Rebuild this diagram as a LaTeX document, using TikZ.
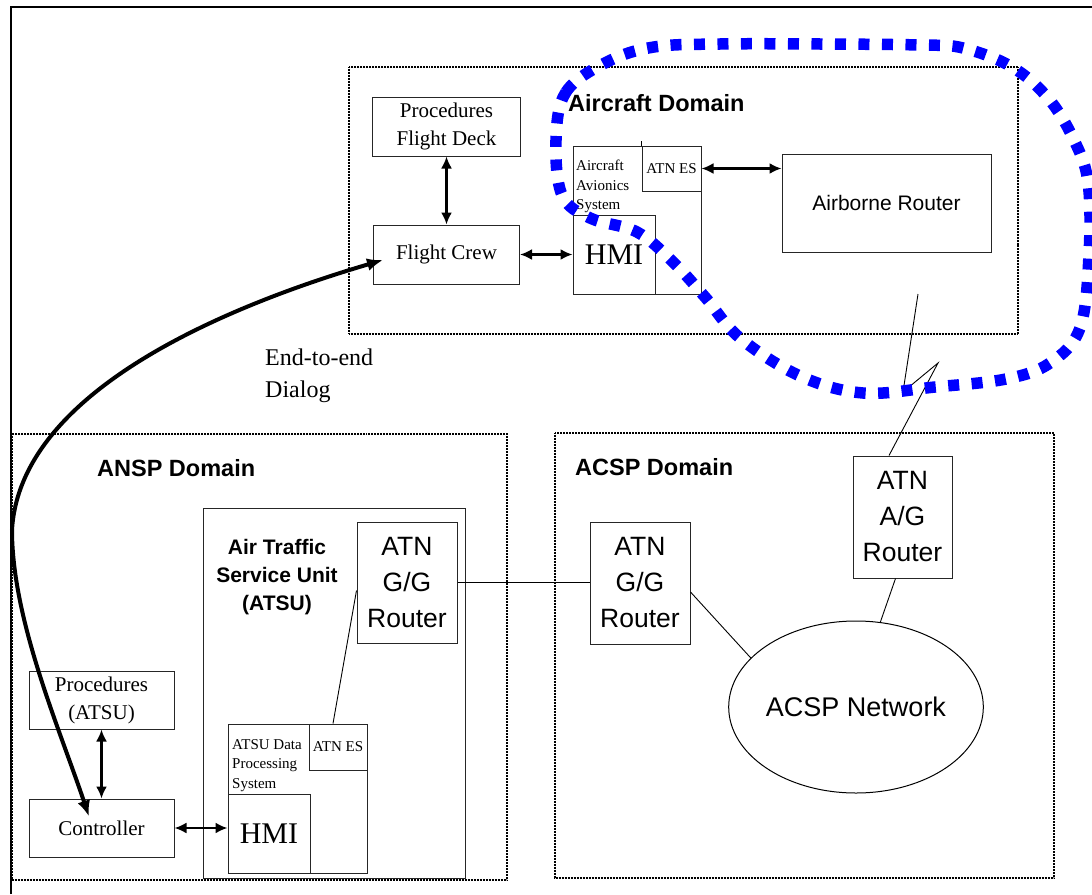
\documentclass[tikz,border=0pt]{standalone}
\usepackage{fontspec}
\setmainfont{Liberation Serif}
\setsansfont{Liberation Sans}
\usetikzlibrary{arrows.meta,shapes.geometric}

\begin{document}
\begin{tikzpicture}[x=1pt,y=-1pt,
    box/.style={draw=black!85, line width=1pt, inner sep=0pt, align=center, font=\fontsize{21}{28}\selectfont},
    router/.style={box, font=\sffamily\fontsize{26.5}{36}\selectfont},
    hmi/.style={box, font=\fontsize{30}{34}\selectfont},
    smalltext/.style={inner sep=0pt, align=left, anchor=north west, font=\fontsize{15}{19.5}\selectfont},
    domainbox/.style={line width=2pt, dash pattern=on 1pt off 0.5pt},
    domlabel/.style={inner sep=0pt, anchor=west, font=\sffamily\bfseries\fontsize{23.5}{28}\selectfont},
    link/.style={line width=0.9pt},
    biarrow/.style={{Latex[length=12pt,width=11pt]}-{Latex[length=12pt,width=11pt]}, line width=2.2pt},
    dialog/.style={{Latex[length=16pt,width=13pt]}-{Latex[length=16pt,width=13pt]}, line width=4pt}]
            \useasboundingbox (0,0) rectangle (1092,894);
            \draw [line width=2pt] (11,894) -- (11,7) -- (1092,7);

            % domains
            \draw [domainbox] (349,67) rectangle (1018,334);
            \draw [domainbox] (12,434) rectangle (507,880);
            \draw [domainbox] (555,433) rectangle (1054,878);
            \node [domlabel] (acdom) at (568,103) {Aircraft Domain};
            \node [domlabel] (anspdom) at (97,468) {ANSP Domain};
            \node [domlabel] (acspdom) at (575,467) {ACSP Domain};

            % aircraft
            \node [box, minimum width=148pt, minimum height=59pt] (pfd) at (446.5,126.5) {Procedures\\Flight Deck};
            \node [box, minimum width=146pt, minimum height=59pt] (crew) at (446.5,254.5) {Flight Crew};
            \node [box, minimum width=128pt, minimum height=148pt] (avs) at (637,220) {};
            \node [box, minimum width=59pt, minimum height=45pt, font=\fontsize{15}{19.5}\selectfont] (aes) at (671.5,168.5) {ATN ES};
            \draw [link] (aes.north west) -- ++(0,-5);
            \node [hmi, minimum width=82pt, minimum height=79pt] (ahmi) at (614,254.5) {HMI};
            \node [smalltext] (avstext) at (576,160) {Aircraft\\Avionics\\System};
            \node [box, minimum width=209pt, minimum height=98pt, font=\sffamily\fontsize{21}{26}\selectfont] (ar) at (886.5,203) {Airborne Router};
            \draw [biarrow] (pfd) -- (crew);
            \draw [biarrow] (crew) -- (ahmi);
            \draw [biarrow] (aes.east) -- (aes.east -| ar.west);

            % ansp
            \node [box, minimum width=262pt, minimum height=370pt] (atsu) at (334,693) {};
            \node [inner sep=0pt, align=center, font=\sffamily\bfseries\fontsize{21}{28}\selectfont] (atsutext) at (277,577) {Air Traffic\\Service Unit\\(ATSU)};
            \node [router, minimum width=100pt, minimum height=121pt] (gga) at (407,582.5) {ATN\\G/G\\Router};
            \node [box, minimum width=145pt, minimum height=58pt] (patsu) at (101.5,700) {Procedures\\(ATSU)};
            \node [box, minimum width=145pt, minimum height=58pt] (ctrl) at (101.5,828) {Controller};
            \node [box, minimum width=139pt, minimum height=149pt] (dps) at (297.5,798.5) {};
            \node [box, minimum width=58pt, minimum height=46pt, font=\fontsize{15}{19.5}\selectfont] (des) at (338,747) {ATN ES};
            \node [hmi, minimum width=82pt, minimum height=79pt] (dhmi) at (269,833.5) {HMI};
            \node [smalltext] (dpstext) at (232,739) {ATSU Data\\Processing\\System};
            \draw [biarrow] (patsu) -- (ctrl);
            \draw [biarrow] (ctrl.east) -- (ctrl.east -| dhmi.west);
            \draw [link] ([xshift=-5pt]des.north) -- ([yshift=-8pt]gga.west);

            % acsp
            \node [router, minimum width=100pt, minimum height=122pt] (ggc) at (640,583) {ATN\\G/G\\Router};
            \node [router, minimum width=99pt, minimum height=122pt] (ag) at (902.5,517) {ATN\\A/G\\Router};
            \node [draw, ellipse, line width=1pt, minimum width=248pt, minimum height=172pt, inner sep=0pt, font=\sffamily\fontsize{27}{32}\selectfont] (net) at (856,707) {ACSP Network};
            \draw [link] (gga.east) -- (gga.east -| ggc.west);
            \draw [link] ([yshift=-9pt]ggc.east) -- (net.155);
            \draw [link] ([xshift=-7pt]ag.south) -- (net.74);
            \coordinate (bolt) at (918,294);
            \draw [link] (bolt) -- (903,392) -- (938,363) -- ([xshift=-13.5pt]ag.north);

            % dialog
            \node [inner sep=0pt, align=left, anchor=north west, font=\fontsize{24}{32}\selectfont] (e2e) at (265,349) {End-to-end\\Dialog};
            \draw [dialog] ([xshift=10pt,yshift=-5.5pt]crew.west) .. controls (230,305) and (20,390) .. (12,530)
                .. controls (12,620) and (60,730) .. ([xshift=-12.5pt,yshift=-18pt]ctrl.north);

            % blue loop
            \draw [blue, line width=11.5pt, dash pattern=on 11pt off 12.5pt] plot [smooth cycle, tension=0.6] coordinates {
                (556,140) (566,92) (607,62) (654,47) (720,44) (820,44) (920,45) (963,48) (1012,67) (1048,98)
                (1073,138) (1088,182) (1089,255) (1080,328) (1050,363) (1006,379) (935,387) (863,393) (800,376)
                (740,338) (705,297) (673,262) (637,232) (590,218) (562,195)};
        \end{tikzpicture}
\end{document}
